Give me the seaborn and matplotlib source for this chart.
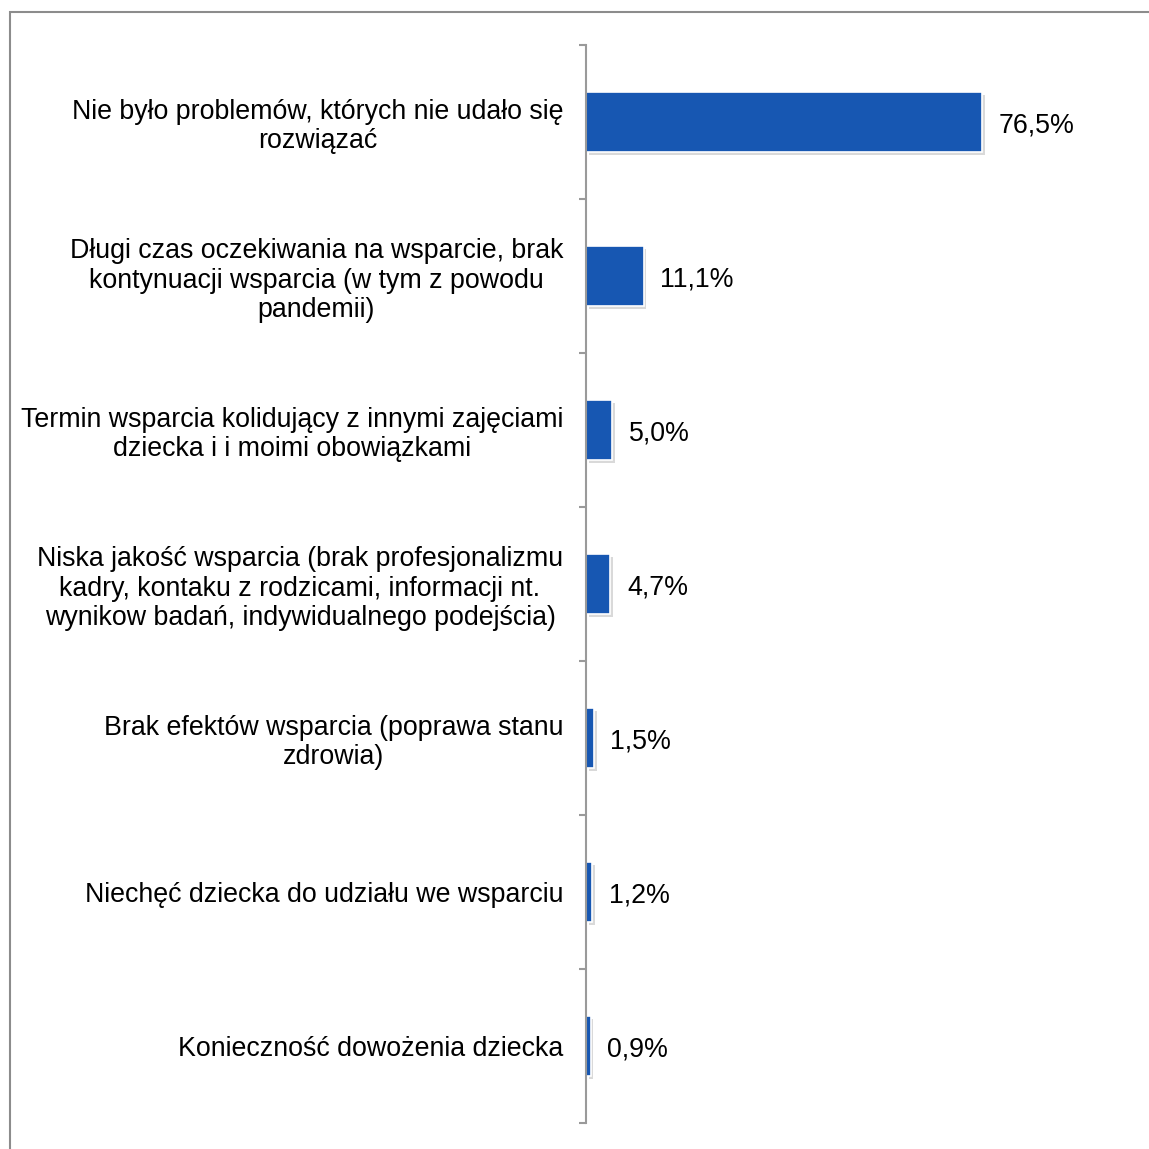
import matplotlib
matplotlib.use("Agg")
import matplotlib.pyplot as plt
import matplotlib.patheffects as pe
from matplotlib.patches import Rectangle
import seaborn as sns
import pandas as pd

categories = [
    "Nie było problemów, których nie udało się\nrozwiązać",
    "Długi czas oczekiwania na wsparcie, brak\nkontynuacji wsparcia (w tym z powodu\npandemii)",
    "Termin wsparcia kolidujący z innymi zajęciami\ndziecka i i moimi obowiązkami",
    "Niska jakość wsparcia (brak profesjonalizmu\nkadry, kontaku z rodzicami, informacji nt.\nwynikow badań, indywidualnego podejścia)",
    "Brak efektów wsparcia (poprawa stanu\nzdrowia)",
    "Niechęć dziecka do udziału we wsparciu",
    "Konieczność dowożenia dziecka",
]
values = [76.5, 11.1, 5.0, 4.7, 1.5, 1.2, 0.9]

BAR_COLOR = "#1757B2"
FONT_SIZE = 19.3

sns.set_theme(style="white")
plt.rcParams["font.family"] = ["Liberation Sans", "DejaVu Sans"]

df = pd.DataFrame({"kategoria": categories, "procent": values})

fig = plt.figure(figsize=(11.49, 11.49), dpi=100)
ax = fig.add_axes([0.510, 0.0226, 0.451, 0.9382])

sns.barplot(data=df, x="procent", y="kategoria", orient="h",
            color=BAR_COLOR, saturation=1, width=0.39, ax=ax)

for bar in ax.patches:
    bar.set_edgecolor("white")
    bar.set_linewidth(1.2)
    bar.set_path_effects([
        pe.SimplePatchShadow(offset=(2, -2), shadow_rgbFace="#000000", alpha=0.15),
        pe.Normal(),
    ])

ax.set_xlim(0, 100)
ax.set_ylim(6.5, -0.5)
ax.set_xlabel("")
ax.set_ylabel("")
ax.set_xticks([])

for side in ("top", "right", "bottom"):
    ax.spines[side].set_visible(False)
ax.spines["left"].set_color("#9a9a9a")
ax.spines["left"].set_linewidth(1.5)

# category boundary ticks, labels at the centres
ax.set_yticks([i - 0.5 for i in range(len(categories) + 1)], minor=True)
ax.tick_params(axis="y", which="minor", left=True, length=5, width=1.5,
               color="#9a9a9a", direction="out")
ax.tick_params(axis="y", which="major", left=False, length=0, pad=16.5,
               labelsize=FONT_SIZE, labelcolor="black")
for lbl in ax.get_yticklabels():
    lbl.set_multialignment("center")
    lbl.set_linespacing(1.17)

labels = [f"{v:.1f}%".replace(".", ",") for v in values]
texts = ax.bar_label(ax.containers[0], labels=labels, padding=12,
                     fontsize=FONT_SIZE, color="black")
for t in texts:
    t.xyann = (12, -2.5)

# outer chart frame
fig.patches.append(Rectangle((10 / 1149, -0.05), 1.1, 1 - 12 / 1149 + 0.05,
                             transform=fig.transFigure, fill=False,
                             edgecolor="#8c8c8c", linewidth=1.5))

fig.savefig("out.png", dpi=100, facecolor="white")
